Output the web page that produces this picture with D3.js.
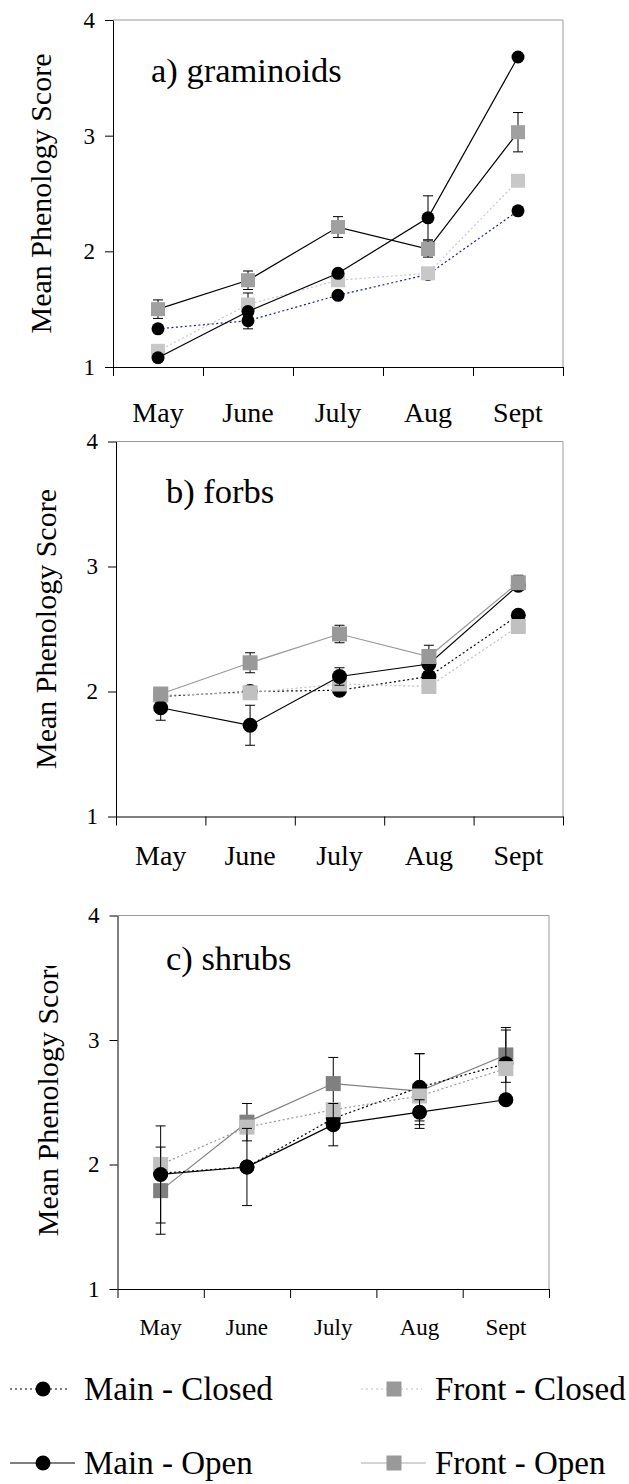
<!DOCTYPE html>
<html>
<head>
<meta charset="utf-8">
<script src="https://cdn.jsdelivr.net/npm/d3@7"></script>
<style>
  body { margin: 0; background: #fff; }
  text { font-family: "Liberation Serif", "Times New Roman", serif; fill: #000; }
</style>
</head>
<body>
<script>
// months on the x axis and y ticks
const months = ["May", "June", "July", "Aug", "Sept"];
const yTicks = [1, 2, 3, 4];

// a) graminoids
const gramMainClosed = [1.33, 1.40, 1.62, 1.80, 2.35];
const gramMainClosedErr = [0.03, 0.07, 0.03, 0.03, 0.03];
const gramMainOpen = [1.08, 1.48, 1.81, 2.29, 3.68];
const gramMainOpenErr = [0.02, 0.03, 0.03, 0.19, 0.03];
const gramFrontClosed = [1.14, 1.54, 1.75, 1.81, 2.61];
const gramFrontClosedErr = [0.02, 0.10, 0.03, 0.04, 0.03];
const gramFrontOpen = [1.50, 1.75, 2.21, 2.02, 3.03];
const gramFrontOpenErr = [0.08, 0.08, 0.09, 0.07, 0.17];

// b) forbs
const forbMainClosed = [1.96, 2.00, 2.01, 2.12, 2.61];
const forbMainClosedErr = [0.02, 0.02, 0.02, 0.02, 0.02];
const forbMainOpen = [1.87, 1.73, 2.12, 2.22, 2.85];
const forbMainOpenErr = [0.10, 0.16, 0.07, 0.03, 0.03];
const forbFrontClosed = [1.97, 1.99, 2.06, 2.04, 2.52];
const forbFrontClosedErr = [0.02, 0.02, 0.02, 0.02, 0.02];
const forbFrontOpen = [1.98, 2.23, 2.46, 2.28, 2.87];
const forbFrontOpenErr = [0.03, 0.08, 0.07, 0.09, 0.06];

// c) shrubs
const shrubMainClosed = [1.93, 1.98, 2.37, 2.62, 2.81];
const shrubMainClosedErr = [0.02, 0.02, 0.03, 0.27, 0.27];
const shrubMainOpen = [1.92, 1.98, 2.32, 2.42, 2.52];
const shrubMainOpenErr = [0.39, 0.31, 0.17, 0.10, 0.03];
const shrubFrontClosed = [2.00, 2.30, 2.44, 2.55, 2.77];
const shrubFrontClosedErr = [0.02, 0.02, 0.02, 0.02, 0.02];
const shrubFrontOpen = [1.79, 2.34, 2.65, 2.59, 2.88];
const shrubFrontOpenErr = [0.35, 0.15, 0.21, 0.30, 0.22];

const legendNames = ["Main - Closed", "Front - Closed", "Main - Open", "Front - Open"];

// panel layout + per panel styles
const panels = [
  {
    title: "a) graminoids", left: 113, right: 563, top: 20, bottom: 367,
    titleX: 151, titleY: 82, monthY: 422, monthSize: 28, labelX: 51, labelShift: 0,
    r: 6.5, sq: 14,
    series: [
      { v: gramMainClosed, e: gramMainClosedErr, shape: "circle", fill: "#000", line: "#1c1c99", dash: "2,2.5" },
      { v: gramFrontClosed, e: gramFrontClosedErr, shape: "square", fill: "#c8c8c8", line: "#c8c8c8", dash: "2,2.5" },
      { v: gramMainOpen, e: gramMainOpenErr, shape: "circle", fill: "#000", line: "#000", dash: null },
      { v: gramFrontOpen, e: gramFrontOpenErr, shape: "square", fill: "#a0a0a0", line: "#000", dash: null }
    ]
  },
  {
    title: "b) forbs", left: 116, right: 563, top: 441.5, bottom: 816.5,
    titleX: 166, titleY: 503, monthY: 865, monthSize: 28, labelX: 56, labelShift: 0,
    r: 7.5, sq: 15,
    series: [
      { v: forbMainClosed, e: forbMainClosedErr, shape: "circle", fill: "#000", line: "#000", dash: "2,2.5" },
      { v: forbFrontClosed, e: forbFrontClosedErr, shape: "square", fill: "#c0c0c0", line: "#c0c0c0", dash: "2,2.5" },
      { v: forbMainOpen, e: forbMainOpenErr, shape: "circle", fill: "#000", line: "#000", dash: null },
      { v: forbFrontOpen, e: forbFrontOpenErr, shape: "square", fill: "#999", line: "#999", dash: null }
    ]
  },
  {
    title: "c) shrubs", left: 117.5, right: 549, top: 915.5, bottom: 1289,
    titleX: 166, titleY: 970, monthY: 1335, monthSize: 23, labelX: 58, labelShift: -6,
    r: 7.5, sq: 15, clipTop: 966,
    series: [
      { v: shrubFrontOpen, e: shrubFrontOpenErr, shape: "square", fill: "#808080", line: "#808080", dash: null },
      { v: shrubMainClosed, e: shrubMainClosedErr, shape: "circle", fill: "#000", line: "#000", dash: "2,2.5" },
      { v: shrubFrontClosed, e: shrubFrontClosedErr, shape: "square", fill: "#c0c0c0", line: "#999", dash: "2,2.5" },
      { v: shrubMainOpen, e: shrubMainOpenErr, shape: "circle", fill: "#000", line: "#000", dash: null }
    ]
  }
];

const svg = d3.select("body").append("svg")
  .attr("width", 629)
  .attr("height", 1484);

// the shrub panel's axis title is cut off at the top in the original
svg.append("defs").append("clipPath").attr("id", "clipc")
  .append("rect").attr("x", 0).attr("y", panels[2].clipTop).attr("width", 110).attr("height", 400);

panels.forEach(function (p) {
  const x = d3.scaleBand().domain(months).range([p.left, p.right]).padding(0);
  const xi = d3.scaleLinear().domain([0, months.length]).range([p.left, p.right]);
  const y = d3.scaleLinear().domain([1, 4]).range([p.bottom, p.top]);
  const cx = function (i) { return x(months[i]) + x.bandwidth() / 2; };

  const g = svg.append("g");

  // grey top/right frame
  g.append("path")
    .attr("d", `M${p.left},${p.top}H${p.right}V${p.bottom}`)
    .attr("fill", "none").attr("stroke", "#999").attr("stroke-width", 1);

  // y axis
  const ya = g.append("g")
    .attr("transform", `translate(${p.left},0)`)
    .call(d3.axisLeft(y).tickValues(yTicks).tickSize(8).tickPadding(10).tickSizeOuter(0).tickFormat(d3.format("d")));
  ya.selectAll("text").style("font-size", "23px").style("font-family", '"Liberation Serif", serif');
  ya.selectAll("line, path").attr("stroke", "#000");

  // x axis, ticks at category borders
  const xa = g.append("g")
    .attr("transform", `translate(0,${p.bottom})`)
    .call(d3.axisBottom(xi).tickValues(d3.range(0, months.length + 1)).tickSize(9).tickSizeOuter(0).tickFormat(""));
  xa.selectAll("line, path").attr("stroke", "#000");

  g.selectAll(".month").data(months).join("text")
    .attr("x", function (d) { return x(d) + x.bandwidth() / 2; })
    .attr("y", p.monthY)
    .attr("text-anchor", "middle")
    .style("font-size", p.monthSize + "px")
    .text(function (d) { return d; });

  // y label
  const labG = g.append("g");
  if (p.clipTop) labG.attr("clip-path", "url(#clipc)");
  labG.append("text")
    .attr("transform", `translate(${p.labelX},${(p.top + p.bottom) / 2 + p.labelShift}) rotate(-90)`)
    .attr("text-anchor", "middle")
    .style("font-size", "30px")
    .text("Mean Phenology Score");

  // title
  g.append("text")
    .attr("x", p.titleX).attr("y", p.titleY)
    .style("font-size", "34.5px")
    .text(p.title);

  const line = d3.line().x(function (d, i) { return cx(i); }).y(function (d) { return y(d); });

  p.series.forEach(function (s) {
    const sg = g.append("g");
    // error bars
    s.v.forEach(function (v, i) {
      const e = s.e[i];
      const xx = cx(i);
      sg.append("line").attr("x1", xx).attr("x2", xx).attr("y1", y(v - e)).attr("y2", y(v + e)).attr("stroke", "#000");
      [v - e, v + e].forEach(function (t) {
        sg.append("line").attr("x1", xx - 5).attr("x2", xx + 5).attr("y1", y(t)).attr("y2", y(t)).attr("stroke", "#000");
      });
    });
    // line
    sg.append("path").attr("d", line(s.v))
      .attr("fill", "none").attr("stroke", s.line).attr("stroke-width", 1.2)
      .attr("stroke-dasharray", s.dash);
    // markers
    if (s.shape === "circle") {
      sg.selectAll("circle").data(s.v).join("circle")
        .attr("cx", function (d, i) { return cx(i); })
        .attr("cy", function (d) { return y(d); })
        .attr("r", p.r).attr("fill", s.fill);
    } else {
      sg.selectAll("rect").data(s.v).join("rect")
        .attr("x", function (d, i) { return cx(i) - p.sq / 2; })
        .attr("y", function (d) { return y(d) - p.sq / 2; })
        .attr("width", p.sq).attr("height", p.sq).attr("fill", s.fill);
    }
  });
});

// legend
const legendItems = [
  { name: legendNames[0], x: 10, w: 60, y: 1389, shape: "circle", color: "#000", dash: "2,3" },
  { name: legendNames[1], x: 361, w: 61, y: 1389, shape: "square", color: "#c0c0c0", dash: "2,3" },
  { name: legendNames[2], x: 10, w: 65, y: 1463, shape: "circle", color: "#000", dash: null },
  { name: legendNames[3], x: 361, w: 65, y: 1463, shape: "square", color: "#aaa", dash: null }
];
const lg = svg.append("g");
legendItems.forEach(function (d) {
  lg.append("line").attr("x1", d.x).attr("x2", d.x + d.w).attr("y1", d.y).attr("y2", d.y)
    .attr("stroke", d.color).attr("stroke-width", 1.2).attr("stroke-dasharray", d.dash);
  if (d.shape === "circle") {
    lg.append("circle").attr("cx", d.x + 33).attr("cy", d.y).attr("r", 7.5).attr("fill", "#000");
  } else {
    lg.append("rect").attr("x", d.x + 33 - 7.5).attr("y", d.y - 7.5).attr("width", 15).attr("height", 15).attr("fill", "#999");
  }
  lg.append("text").attr("x", d.x + 74).attr("y", d.y + 11).style("font-size", "33px").text(d.name);
});
</script>
</body>
</html>
